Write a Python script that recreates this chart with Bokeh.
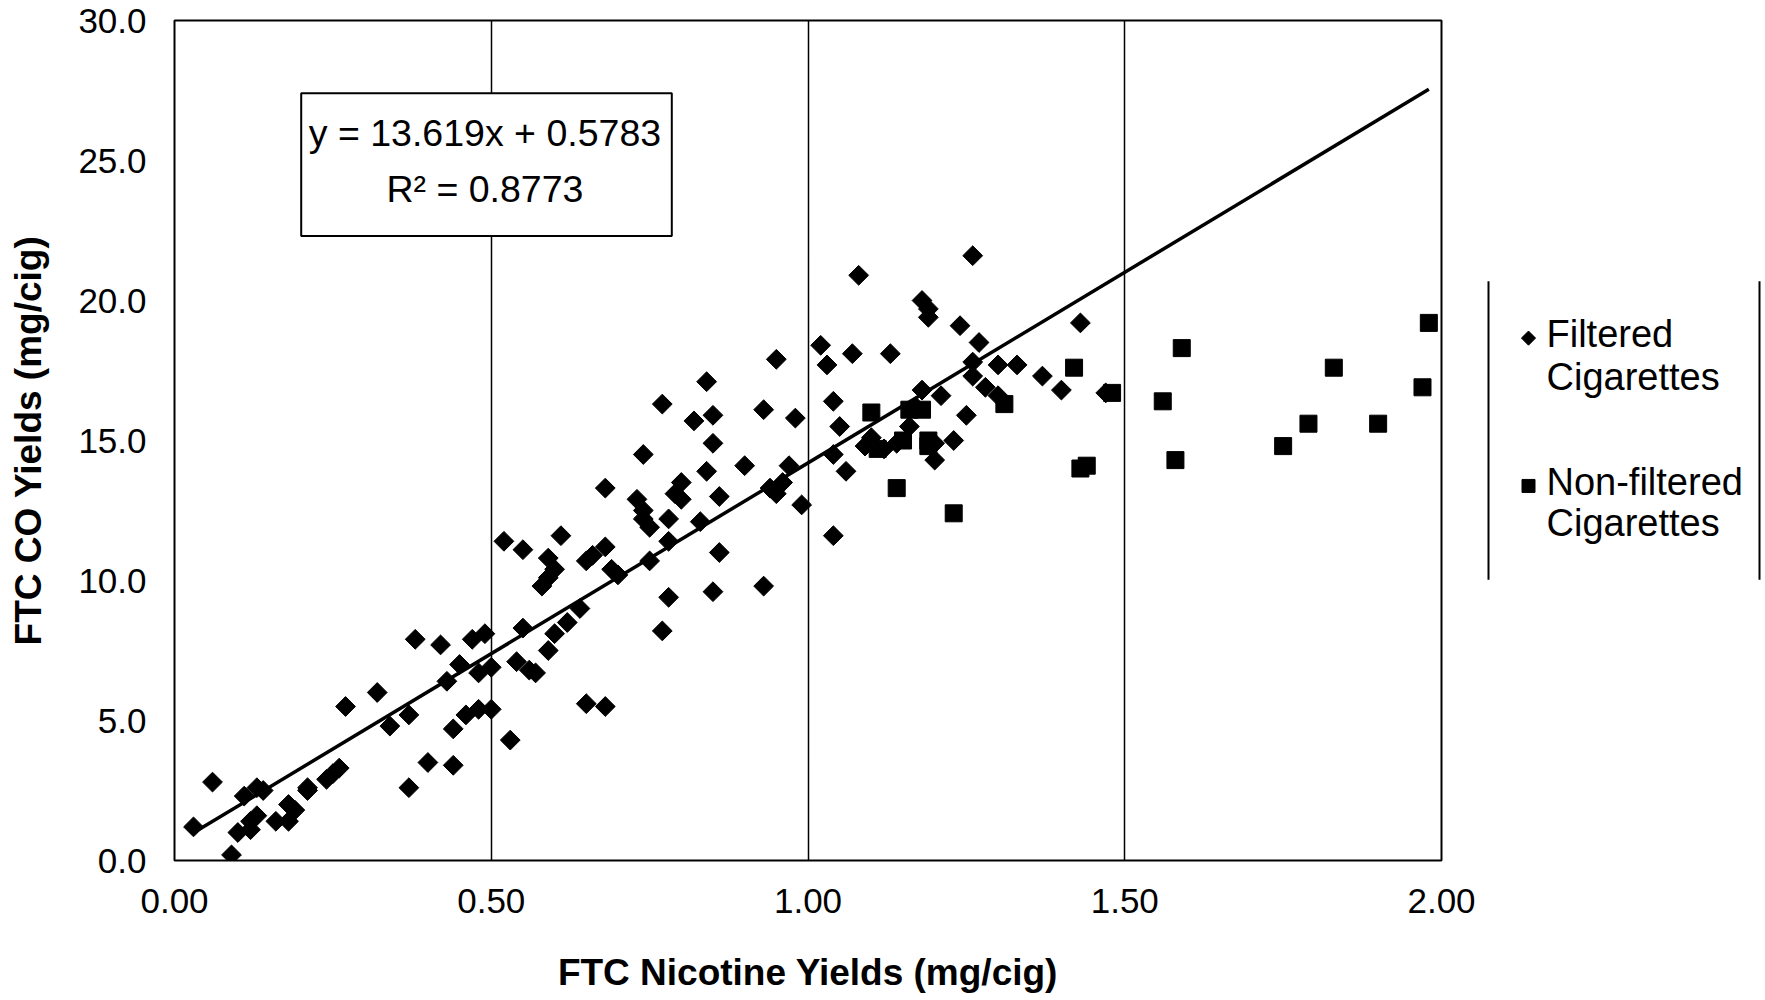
import numpy as np
from bokeh.plotting import figure
from bokeh.models import Range1d, FixedTicker, NumeralTickFormatter, Label, BoxAnnotation
from bokeh.layouts import row
from bokeh.embed import file_html
from bokeh.resources import INLINE
from bokeh.core.properties import value

# ---------------- data ----------------
filtered_x = [0.03, 0.06, 0.09, 0.10, 0.11, 0.12, 0.12, 0.13, 0.13, 0.14, 0.16, 0.18, 0.18, 0.19,
              0.21, 0.21, 0.24, 0.25, 0.26, 0.27, 0.32, 0.34, 0.37, 0.37, 0.38, 0.40, 0.42, 0.43,
              0.44, 0.44, 0.45, 0.46, 0.47, 0.48, 0.48, 0.49, 0.50, 0.50, 0.52, 0.53, 0.55, 0.54,
              0.55, 0.56, 0.57, 0.59, 0.59, 0.58, 0.59, 0.60, 0.61, 0.60, 0.62, 0.64, 0.65, 0.65,
              0.66, 0.68, 0.68, 0.68, 0.69, 0.70, 0.74, 0.73, 0.74, 0.74, 0.75, 0.75, 0.77, 0.77,
              0.78, 0.78, 0.78, 0.79, 0.80, 0.80, 0.82, 0.83, 0.84, 0.84, 0.85, 0.85, 0.85, 0.86,
              0.86, 0.90, 0.93, 0.93, 0.94, 0.95, 0.95, 0.96, 0.97, 0.98, 0.99, 1.02, 1.03, 1.04,
              1.04, 1.04, 1.05, 1.06, 1.07, 1.08, 1.09, 1.10, 1.12, 1.13, 1.14, 1.16, 1.17, 1.18,
              1.18, 1.19, 1.19, 1.20, 1.20, 1.21, 1.23, 1.24, 1.25, 1.26, 1.26, 1.26, 1.27, 1.28,
              1.30, 1.30, 1.33, 1.37, 1.40, 1.43, 1.47]
filtered_y = [1.2, 2.8, 0.2, 1.0, 2.3, 1.4, 1.1, 1.6, 2.6, 2.5, 1.4, 1.4, 2.0, 1.8,
              2.5, 2.6, 2.9, 3.1, 3.3, 5.5, 6.0, 4.8, 5.2, 2.6, 7.9, 3.5, 7.7, 6.4,
              4.7, 3.4, 7.0, 5.2, 7.9, 6.7, 5.4, 8.1, 5.4, 6.9, 11.4, 4.3, 8.3, 7.1,
              11.1, 6.8, 6.7, 7.5, 10.1, 9.8, 10.8, 10.4, 11.6, 8.1, 8.5, 9.0, 5.6, 10.7,
              10.9, 11.2, 5.5, 13.3, 10.4, 10.2, 14.5, 12.9, 12.5, 12.2, 11.9, 10.7, 8.2, 16.3,
              9.4, 12.2, 11.4, 13.1, 13.5, 12.9, 15.7, 12.1, 13.9, 17.1, 9.6, 14.9, 15.9, 11.0,
              13.0, 14.1, 9.8, 16.1, 13.3, 17.9, 13.1, 13.5, 14.1, 15.8, 12.7, 18.4, 17.7, 11.6,
              16.4, 14.5, 15.5, 13.9, 18.1, 20.9, 14.8, 15.1, 14.7, 18.1, 14.9, 15.5, 16.2, 16.8,
              20.0, 19.7, 19.4, 14.9, 14.3, 16.6, 15.0, 19.1, 15.9, 21.6, 17.8, 17.3, 18.5, 16.9,
              16.6, 17.7, 17.7, 17.3, 16.8, 19.2, 16.7]
nonfiltered_x = [1.10, 1.11, 1.14, 1.15, 1.16, 1.18, 1.19, 1.19, 1.23, 1.31, 1.42, 1.43,
                 1.44, 1.48, 1.56, 1.58, 1.59, 1.75, 1.79, 1.83, 1.90, 1.97, 1.98]
nonfiltered_y = [16.0, 14.7, 13.3, 15.0, 16.1, 16.1, 15.0, 14.8, 12.4, 16.3, 17.6, 14.0,
                 14.1, 16.7, 16.4, 14.3, 18.3, 14.8, 15.6, 17.6, 15.6, 16.9, 19.2]
x_ticks = [0.0, 0.5, 1.0, 1.5, 2.0]
x_grid_ticks = [0.5, 1.0, 1.5]
y_ticks = [0, 5, 10, 15, 20, 25, 30]
slope = 13.619
intercept = 0.5783
r_squared = 0.8773
legend_labels = ["Filtered\nCigarettes", "Non-filtered\nCigarettes"]

FONT = "Liberation Sans"

# frame of the main plot in page pixels: left 174, right 1441, top 20, bottom 861
MAIN_W, H = 1478, 995
p = figure(width=MAIN_W, height=H, x_range=Range1d(0, 2), y_range=Range1d(0, 30),
           output_backend="svg", toolbar_location=None,
           min_border_left=174, min_border_right=37, min_border_top=20, min_border_bottom=134)
p.background_fill_color = "white"
p.border_fill_color = "white"
p.outline_line_color = "black"
p.outline_line_width = 2

p.xaxis.ticker = FixedTicker(ticks=x_ticks)
p.yaxis.ticker = FixedTicker(ticks=y_ticks)
p.xaxis.formatter = NumeralTickFormatter(format="0.00")
p.yaxis.formatter = NumeralTickFormatter(format="0.0")
for ax in (p.xaxis, p.yaxis):
    ax.axis_line_color = None
    ax.major_tick_line_color = None
    ax.minor_tick_line_color = None
    ax.major_label_text_font = FONT
    ax.major_label_text_font_size = "35px"
    ax.major_label_text_color = "black"
    ax.axis_label_text_font = FONT
    ax.axis_label_text_font_size = "37px"
    ax.axis_label_text_font_style = "bold"
    ax.axis_label_text_color = "black"
p.xaxis.axis_label = "FTC Nicotine Yields (mg/cig)"
p.yaxis.axis_label = "FTC CO Yields (mg/cig)"
p.xaxis.major_label_standoff = 22
p.yaxis.major_label_standoff = 22
p.xaxis.axis_label_standoff = 36
p.yaxis.axis_label_standoff = 26

p.xgrid.ticker = FixedTicker(ticks=x_grid_ticks)
p.xgrid.grid_line_color = "black"
p.xgrid.grid_line_width = 1.5
p.ygrid.visible = False

# trend line over the range of the data
all_x = filtered_x + nonfiltered_x
lx = np.array([min(all_x), max(all_x)])
p.line(lx, slope * lx + intercept, line_color="black", line_width=3.5)

p.scatter(filtered_x, filtered_y, marker="square", angle=np.pi / 4, size=14,
          fill_color="black", line_color="black")
p.scatter(nonfiltered_x, nonfiltered_y, marker="square", size=17,
          fill_color="black", line_color="black")

box = BoxAnnotation(left=0.2, right=0.785, bottom=22.3, top=27.4,
                    fill_color="white", fill_alpha=1.0, line_color="black", line_alpha=1.0,
                    line_width=2)
p.add_layout(box)
p.add_layout(Label(x=0.49, y=26.0, text=f"y = {slope}x + {intercept}", text_align="center",
                   text_baseline="middle", text_font=FONT, text_font_size="37.5px", text_color="black"))
p.add_layout(Label(x=0.49, y=23.97, text=f"R² = {r_squared}", text_align="center",
                   text_baseline="middle", text_font=FONT, text_font_size="37.5px", text_color="black"))

# ---------------- legend panel (its frame is aligned with the main frame) ----------------
LEG_W = 284
lg = figure(width=LEG_W, height=H, x_range=Range1d(MAIN_W, MAIN_W + LEG_W), y_range=Range1d(861, 20),
            output_backend="svg", toolbar_location=None, x_axis_type=None, y_axis_type=None,
            min_border_left=0, min_border_right=0, min_border_top=20, min_border_bottom=134)
lg.outline_line_color = None
lg.xgrid.visible = False
lg.ygrid.visible = False
lg.segment(x0=[1488, 1759], y0=[281, 281], x1=[1488, 1759], y1=[580, 580],
           line_color="black", line_width=2)
lg.scatter([1528], [338], marker="square", angle=np.pi / 4, size=10, fill_color="black", line_color="black")
lg.scatter([1528], [486], marker="square", size=13, fill_color="black", line_color="black")
line_pos = [(334, 377), (482, 523)]
for lab, (y1, y2) in zip(legend_labels, line_pos):
    l1, l2 = lab.split("\n")
    lg.text(x=[1546, 1546], y=[y1, y2], text=[l1, l2], text_font=value(FONT), text_font_size="38px",
            text_baseline="middle", text_align="left", text_color="black")

layout = row(p, lg)
open("out.html", "w").write(file_html(layout, INLINE))
